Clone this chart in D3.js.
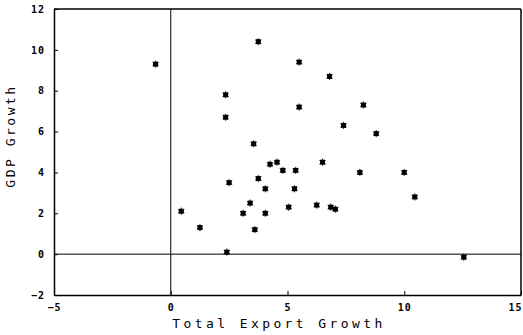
<!DOCTYPE html>
<html>
<head>
<meta charset="utf-8">
<script src="https://cdn.jsdelivr.net/npm/d3@7"></script>
<style>
  body { margin: 0; background: #fff; }
  text { font-family: "DejaVu Sans Mono", monospace; fill: #000; }
</style>
</head>
<body>
<div id="chart"></div>
<script>
// Data
const exportGrowth = [-0.65, 3.75, 5.5, 6.8, 2.35, 5.5, 2.35, 7.4, 8.25, 8.8,
  3.55, 4.25, 4.55, 6.5, 4.8, 5.35, 3.75, 2.5, 4.05, 5.3,
  3.4, 5.05, 6.25, 6.85, 7.05, 0.45, 3.1, 4.05, 1.25, 3.6,
  2.4, 8.1, 10.0, 10.45, 12.55];
const gdpGrowth = [9.3, 10.4, 9.4, 8.7, 7.8, 7.2, 6.7, 6.3, 7.3, 5.9,
  5.4, 4.4, 4.5, 4.5, 4.1, 4.1, 3.7, 3.5, 3.2, 3.2,
  2.5, 2.3, 2.4, 2.3, 2.2, 2.1, 2.0, 2.0, 1.3, 1.2,
  0.1, 4.0, 4.0, 2.8, -0.15];
const xTicks = [-5, 0, 5, 10, 15];
const yTicks = [-2, 0, 2, 4, 6, 8, 10, 12];

const width = 523;
const height = 335;
const margin = { top: 9, right: 2, bottom: 40, left: 54 };

const points = exportGrowth.map((x, i) => ({ x, y: gdpGrowth[i] }));

const svg = d3
  .select("#chart")
  .append("svg")
  .attr("width", width)
  .attr("height", height);

const xScale = d3
  .scaleLinear()
  .domain([-5, 15])
  .range([margin.left, width - margin.right]);

const yScale = d3
  .scaleLinear()
  .domain([-2, 12])
  .range([height - margin.bottom, margin.top]);

// Axes with inward ticks

const xAxis = svg
  .append("g")
  .attr("transform", `translate(0,${height - margin.bottom})`)
  .call(d3.axisBottom(xScale).tickValues(xTicks).tickSize(-4).tickSizeOuter(0).tickPadding(9));

const yAxis = svg
  .append("g")
  .attr("transform", `translate(${margin.left},0)`)
  .call(d3.axisLeft(yScale).tickValues(yTicks).tickSize(-4).tickSizeOuter(0).tickPadding(9));

[xAxis, yAxis].forEach((g) => {
  g.select(".domain").attr("stroke", "#000").attr("stroke-width", 1.5);
  g.selectAll(".tick line").attr("stroke", "#000").attr("stroke-width", 1);
  g.selectAll(".tick text")
    .style("font-size", "10px")
    .style("font-weight", "bold")
    .style("letter-spacing", "1px");
});

// last x label sits at the page edge, keep it inside
xAxis
  .selectAll(".tick text")
  .filter((d) => d === 15)
  .attr("text-anchor", "end")
  .attr("dx", 1);

// Frame top and right
svg
  .append("line")
  .attr("x1", xScale(-5))
  .attr("x2", xScale(15))
  .attr("y1", yScale(12))
  .attr("y2", yScale(12))
  .attr("stroke", "#000")
  .attr("stroke-width", 1.5);

svg
  .append("line")
  .attr("x1", xScale(15))
  .attr("x2", xScale(15))
  .attr("y1", yScale(12))
  .attr("y2", yScale(-2))
  .attr("stroke", "#000")
  .attr("stroke-width", 1.5);

// Zero lines
svg
  .append("line")
  .attr("x1", xScale(-5))
  .attr("x2", xScale(15))
  .attr("y1", yScale(0))
  .attr("y2", yScale(0))
  .attr("stroke", "#000")
  .attr("stroke-width", 1);

svg
  .append("line")
  .attr("x1", xScale(0))
  .attr("x2", xScale(0))
  .attr("y1", yScale(12))
  .attr("y2", yScale(-2))
  .attr("stroke", "#000")
  .attr("stroke-width", 1);

// Points: small filled squares with asterisk spikes

const marks = svg
  .selectAll(".pt")
  .data(points)
  .enter()
  .append("g")
  .attr("class", "pt")
  .attr("transform", (d) => `translate(${xScale(d.x)},${yScale(d.y)})`);

marks
  .append("path")
  .attr("d", d3.symbol(d3.symbolAsterisk, 36))
  .attr("stroke", "#000")
  .attr("stroke-width", 0.8)
  .attr("fill", "none");

marks
  .append("rect")
  .attr("x", -2.5)
  .attr("y", -2.5)
  .attr("width", 5)
  .attr("height", 5)
  .attr("fill", "#000");

// Axis titles

svg
  .append("text")
  .attr("x", 279)
  .attr("y", height - 7)
  .attr("text-anchor", "middle")
  .style("font-size", "13px")
  .style("letter-spacing", "3.4px")
  .text("Total Export Growth");

svg
  .append("text")
  .attr("x", -136)
  .attr("y", 15)
  .attr("transform", "rotate(-90)")
  .attr("text-anchor", "middle")
  .style("font-size", "13px")
  .style("letter-spacing", "2.5px")
  .text("GDP Growth");
</script>
</body>
</html>
